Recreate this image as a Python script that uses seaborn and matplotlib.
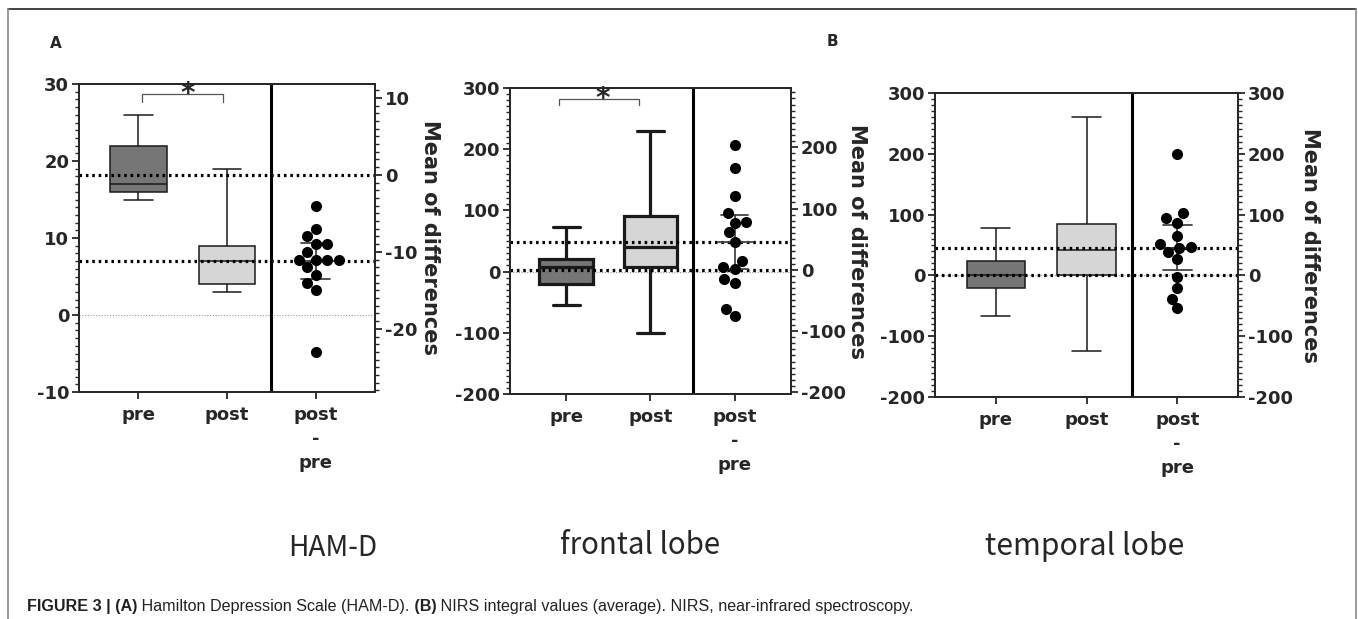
import numpy as np
import pandas as pd
import matplotlib
matplotlib.use("Agg")
import matplotlib.pyplot as plt
import seaborn as sns
from matplotlib.lines import Line2D
from matplotlib.ticker import MultipleLocator

# %%
# Data #
############################

conds = ["pre", "post", "post\n-\npre"]

# box plots: min, q1, median, q3, max
ham_pre = [15, 16, 17, 22, 26]
ham_post = [3, 4, 7, 9, 19]
frontal_pre = [-55, -21, 7, 20, 73]
frontal_post = [-100, 7, 40, 91, 230]
temporal_pre = [-67, -21, 0, 24, 78]
temporal_post = [-125, 0, 42, 84, 260]

# post - pre per subject (right axis)
ham_diff = [-4, -7, -8, -9, -9, -10, -11, -11, -11, -11, -12, -13, -14, -15, -23]
frontal_diff = [204, 166, 121, 92, 78, 77, 61, 45, 15, 4, 1, -15, -22, -64, -76]
temporal_diff = [199, 103, 94, 87, 64, 51, 47, 45, 39, 27, -2, -21, -38, -54]

# mean of "pre" = zero of the right axis
ham_pre_mean = 18.2
frontal_pre_mean = 3
temporal_pre_mean = 0

titles = ["HAM-D", "frontal lobe", "temporal lobe"]

# %%

sns.set_style("ticks")
plt.rcParams["font.family"] = ["DejaVu Sans"]
plt.rcParams["font.weight"] = "bold"
plt.rcParams["axes.unicode_minus"] = False

W, H = 1358, 619
fig = plt.figure(figsize=(W / 100, H / 100), dpi=100)
renderer = fig.canvas.get_renderer()

T975 = {13: 2.160, 14: 2.145}


def ci95(v):
    v = np.asarray(v, dtype=float)
    h = T975[len(v) - 1] * v.std(ddof=1) / np.sqrt(len(v))
    return v.mean() - h, v.mean() + h


def px_axes(l, r, t, b):
    return fig.add_axes([l / W, 1 - b / H, (r - l) / W, (b - t) / H])


def draw_panel(ax, pre, post, diff, pre_mean, ylim, major, minor, lw, label_x, bracket=None):
    df = pd.DataFrame({"cond": ["pre"] * len(pre) + ["post"] * len(post), "val": pre + post})
    sns.boxplot(df, x="cond", y="val", hue="cond", order=conds, hue_order=["pre", "post"],
                palette={"pre": "#767676", "post": "#d6d6d6"}, saturation=1, width=0.64,
                whis=(0, 100), linecolor="#1a1a1a", linewidth=lw, capwidths=0.32,
                legend=False, ax=ax)
    ax.axhline(0, color="#999999", lw=0.8, ls=(0, (1, 1.5)), zorder=0.5)
    ax.axvline(1.5, color="black", lw=2.2)

    ax2 = ax.twinx()
    ddf = pd.DataFrame({"cond": conds[2], "val": diff})
    ax2.axhline(0, color="black", lw=2.3, ls=(0, (0.8, 1.2)), zorder=1)
    ax2.axhline(np.mean(diff), color="black", lw=2.3, ls=(0, (0.8, 1.2)), zorder=1)
    sns.swarmplot(ddf, x="cond", y="val", order=conds, color="black", size=8, ax=ax2, zorder=3)
    sns.pointplot(ddf, x="cond", y="val", order=conds, errorbar=ci95, color="#444444",
                  markers="_", markersize=26, markeredgewidth=1.3, linestyle="none",
                  capsize=0.32, err_kws={"linewidth": 1.3}, ax=ax2)

    ax.set_ylim(*ylim)
    ax2.set_ylim(ylim[0] - pre_mean, ylim[1] - pre_mean)
    ax.set_xlim(-0.67, 2.67)
    for a in (ax, ax2):
        a.yaxis.set_major_locator(MultipleLocator(major))
        a.yaxis.set_minor_locator(MultipleLocator(minor))
        a.tick_params(axis="y", which="major", length=5, width=1.3, labelsize=13, pad=2)
        a.tick_params(axis="y", which="minor", length=3, width=1.0)
        for s in a.spines.values():
            s.set_visible(True)
            s.set_linewidth(1.3)
        a.set_ylabel("")
        a.set_xlabel("")
    ax.set_xticks([0, 1, 2])
    ax.set_xticklabels(conds)
    ax.tick_params(axis="x", length=5, width=1.3, labelsize=13, pad=5)
    for t in ax.get_xticklabels():
        t.set_linespacing(1.45)
    fig.text(label_x / W, 1 - (ax.get_position().y0 + ax.get_position().y1) / 2 * 0 - 0.5 * 0, "")
    ax.text(label_x, 0.5, "Mean of differences", rotation=270,
            ha="center", va="center", fontsize=15, transform=ax.transAxes)

    if bracket is not None:
        x0, x1, y0, y1, xs = bracket
        ax.plot([x0, x0, x1, x1], [y0, y1, y1, y0], color="#555555", lw=0.9, clip_on=False)
        ax.text(xs, y1, "*", ha="center", va="center", fontsize=20, clip_on=False)


ax_a = px_axes(79, 375, 84, 392)
draw_panel(ax_a, ham_pre, ham_post, ham_diff, ham_pre_mean, (-10, 30), 10, 1, 1.1,
           (430 - 79) / 296, bracket=(0.04, 0.95, 27.7, 28.66, 0.56))

ax_b = px_axes(510, 791, 88, 394)
draw_panel(ax_b, frontal_pre, frontal_post, frontal_diff, frontal_pre_mean, (-200, 300), 100, 10, 2.3,
           (857 - 510) / 281, bracket=(-0.09, 0.86, 271.6, 282.5, 0.435))

ax_c = px_axes(935, 1238, 93, 397)
draw_panel(ax_c, temporal_pre, temporal_post, temporal_diff, temporal_pre_mean, (-200, 300), 100, 10, 1.1,
           (1310 - 935) / 303)

# titles under the panels, sized to the width they take in the original
for txt, cx, cy, wpx in zip(titles, [333, 640, 1085], [548, 545, 547], [89, 160, 199]):
    t = fig.text(cx / W, 1 - cy / H, txt, ha="center", va="center", fontsize=20,
                 fontweight="normal", family=["Noto Sans CJK JP", "DejaVu Sans"])
    t.set_fontsize(20 * wpx / t.get_window_extent(renderer).width)

# panel letters
fig.text(56 / W, 1 - 43 / H, "A", ha="center", va="center", fontsize=11)
fig.text(832 / W, 1 - 42 / H, "B", ha="center", va="center", fontsize=11)

# frame
fig.add_artist(Line2D([8 / W, 1356 / W], [1 - 9 / H, 1 - 9 / H], color="#222222", lw=1.2))
fig.add_artist(Line2D([8 / W, 8 / W], [0, 1 - 9 / H], color="#8a8a8a", lw=1.2))
fig.add_artist(Line2D([1356 / W, 1356 / W], [0, 1 - 9 / H], color="#8a8a8a", lw=1.2))

# caption
segs = [("FIGURE 3 | (A)", "bold"), (" Hamilton Depression Scale (HAM-D).", "normal"),
        (" (B)", "bold"), (" NIRS integral values (average). NIRS, near-infrared spectroscopy.", "normal")]
x = 27
for s, w in segs:
    t = fig.text(x / W, 1 - 606 / H, s, ha="left", va="center", fontsize=11.6, fontweight=w,
                 color="#222222", family=["Liberation Sans", "DejaVu Sans"])
    x += t.get_window_extent(renderer).width

fig.savefig("out.png", dpi=100)
